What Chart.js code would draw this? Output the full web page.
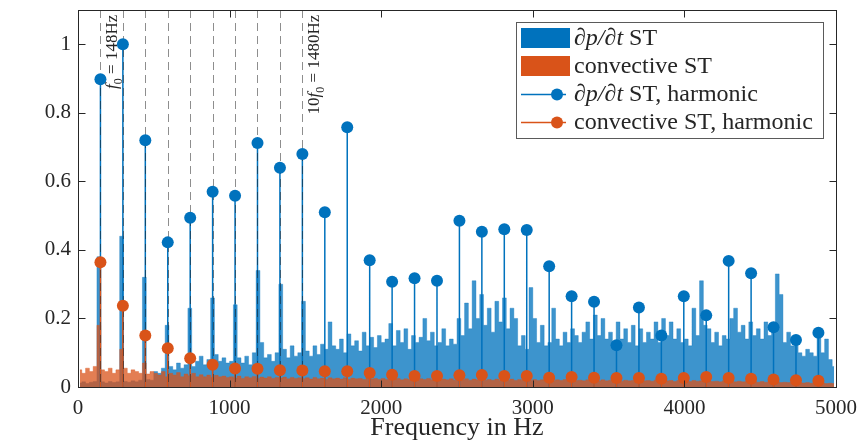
<!DOCTYPE html>
<html>
<head>
<meta charset="utf-8">
<script src="https://cdn.jsdelivr.net/npm/chart.js@4/dist/chart.umd.min.js"></script>
<style>
  html, body { margin: 0; padding: 0; background: #fff; }
  #wrap { width: 866px; height: 446px; position: relative; }
</style>
</head>
<body>
<div id="wrap"><canvas id="spectrum"></canvas></div>
<script>
// harmonics of f0 = 148 Hz
const harmonicFreqs = [148, 296, 444, 592, 740, 888, 1036, 1184, 1332, 1480, 1628, 1776, 1924, 2072, 2220, 2368,
  2516, 2664, 2812, 2960, 3108, 3256, 3404, 3552, 3700, 3848, 3996, 4144, 4292, 4440, 4588, 4736, 4884];
const dpdtHarmonic = [0.898, 1.0, 0.72, 0.422, 0.494, 0.57, 0.558, 0.712, 0.64, 0.68, 0.51, 0.758, 0.37, 0.307, 0.317, 0.31,
  0.485, 0.453, 0.46, 0.458, 0.352, 0.265, 0.249, 0.122, 0.232, 0.15, 0.265, 0.209, 0.368, 0.332, 0.174, 0.137, 0.158];
const convHarmonic = [0.364, 0.237, 0.150, 0.113, 0.084, 0.065, 0.054, 0.053, 0.049, 0.048, 0.046, 0.046, 0.041, 0.036, 0.032, 0.032,
  0.034, 0.035, 0.032, 0.032, 0.027, 0.029, 0.027, 0.026, 0.026, 0.024, 0.026, 0.029, 0.026, 0.024, 0.022, 0.020, 0.018];

// broadband spectra, one value per 25 Hz bin starting at 0 Hz
const noiseStep = 25;
const dpdtNoise = [
  0.012, 0.015, 0.010, 0.014, 0.016, 0.380, 0.015, 0.012, 0.016, 0.013, 0.015, 0.440, 0.016, 0.014, 0.018, 0.015, 0.020, 0.320, 0.022, 0.020,
  0.045, 0.040, 0.055, 0.180, 0.060, 0.050, 0.070, 0.055, 0.065, 0.230, 0.060, 0.075, 0.090, 0.065, 0.080, 0.260, 0.095, 0.075, 0.085, 0.070,
  0.075, 0.240, 0.085, 0.070, 0.090, 0.065, 0.100, 0.340, 0.130, 0.085, 0.095, 0.075, 0.100, 0.300, 0.110, 0.085, 0.120, 0.090, 0.100, 0.250,
  0.105, 0.090, 0.120, 0.095, 0.125, 0.110, 0.190, 0.120, 0.110, 0.140, 0.100, 0.155, 0.120, 0.135, 0.105, 0.160, 0.120, 0.145, 0.115, 0.150,
  0.130, 0.140, 0.185, 0.120, 0.165, 0.130, 0.170, 0.110, 0.150, 0.130, 0.145, 0.200, 0.135, 0.160, 0.120, 0.130, 0.170, 0.120, 0.140, 0.125,
  0.200, 0.150, 0.245, 0.170, 0.310, 0.200, 0.270, 0.180, 0.230, 0.160, 0.250, 0.190, 0.260, 0.170, 0.230, 0.200, 0.120, 0.150, 0.110, 0.290,
  0.200, 0.130, 0.180, 0.120, 0.130, 0.230, 0.140, 0.120, 0.160, 0.130, 0.170, 0.150, 0.130, 0.160, 0.190, 0.140, 0.210, 0.150, 0.200, 0.140,
  0.160, 0.120, 0.190, 0.140, 0.170, 0.130, 0.180, 0.120, 0.170, 0.130, 0.160, 0.140, 0.190, 0.130, 0.200, 0.150, 0.190, 0.140, 0.170, 0.130,
  0.140, 0.120, 0.230, 0.150, 0.310, 0.180, 0.170, 0.130, 0.160, 0.120, 0.150, 0.140, 0.200, 0.230, 0.160, 0.180, 0.140, 0.190, 0.150, 0.170,
  0.140, 0.190, 0.150, 0.170, 0.330, 0.270, 0.130, 0.160, 0.120, 0.130, 0.100, 0.090, 0.110, 0.100, 0.090, 0.160, 0.100, 0.140, 0.080, 0.060
];
const convNoise = [
  0.050, 0.040, 0.055, 0.045, 0.060, 0.180, 0.050, 0.045, 0.055, 0.040, 0.050, 0.110, 0.055, 0.040, 0.050, 0.045, 0.040, 0.070, 0.038, 0.045,
  0.040, 0.035, 0.045, 0.030, 0.040, 0.035, 0.042, 0.030, 0.038, 0.033, 0.040, 0.030, 0.036, 0.030, 0.035, 0.028, 0.034, 0.030, 0.032, 0.028,
  0.030, 0.026, 0.032, 0.025, 0.030, 0.027, 0.031, 0.025, 0.029, 0.026, 0.030, 0.025, 0.028, 0.026, 0.029, 0.024, 0.028, 0.025, 0.027, 0.024,
  0.027, 0.023, 0.028, 0.024, 0.026, 0.022, 0.027, 0.024, 0.026, 0.023, 0.027, 0.022, 0.026, 0.024, 0.025, 0.022, 0.026, 0.023, 0.025, 0.022,
  0.025, 0.022, 0.026, 0.023, 0.025, 0.021, 0.024, 0.022, 0.025, 0.021, 0.024, 0.022, 0.025, 0.021, 0.024, 0.022, 0.023, 0.021, 0.024, 0.020,
  0.023, 0.021, 0.024, 0.020, 0.023, 0.021, 0.024, 0.020, 0.022, 0.020, 0.023, 0.019, 0.022, 0.020, 0.023, 0.019, 0.022, 0.020, 0.022, 0.019,
  0.022, 0.019, 0.021, 0.020, 0.022, 0.018, 0.021, 0.019, 0.022, 0.018, 0.021, 0.019, 0.020, 0.018, 0.021, 0.019, 0.020, 0.018, 0.021, 0.018,
  0.020, 0.018, 0.021, 0.017, 0.020, 0.018, 0.019, 0.017, 0.020, 0.018, 0.019, 0.017, 0.020, 0.017, 0.019, 0.018, 0.019, 0.016, 0.019, 0.017,
  0.018, 0.016, 0.019, 0.017, 0.018, 0.016, 0.018, 0.016, 0.017, 0.015, 0.018, 0.016, 0.017, 0.015, 0.017, 0.015, 0.016, 0.015, 0.016, 0.014,
  0.016, 0.014, 0.015, 0.014, 0.015, 0.013, 0.014, 0.013, 0.014, 0.012, 0.013, 0.012, 0.013, 0.011, 0.012, 0.011, 0.012, 0.010, 0.011, 0.010
];

const xTicks = [0, 1000, 2000, 3000, 4000, 5000];
const yTicks = [0, 0.2, 0.4, 0.6, 0.8, 1];
const markedHarmonics = 10; // dashed guide lines for the first 10 harmonics

const legendLabels = [
  [['∂p/∂t', 'i'], [' ST', 'n']],
  [['convective ST', 'n']],
  [['∂p/∂t', 'i'], [' ST, harmonic', 'n']],
  [['convective ST, harmonic', 'n']]
];
const freqNotes = [
  { freq: 148, parts: [['f', 'i'], ['0', 's'], [' = 148Hz', 'n']] },
  { freq: 1480, parts: [['10', 'n'], ['f', 'i'], ['0', 's'], [' = 1480Hz', 'n']] }
];

const BLUE = '#0072BD';
const ORANGE = '#D95319';
const AXIS = '#262626';
const SERIF = "'Liberation Serif', 'DejaVu Serif', serif";

function noisePoints(values) {
  return values.map((v, i) => ({ x: i * noiseStep + noiseStep / 2, y: v }));
}

function stemPoints(freqs, values) {
  const pts = [];
  freqs.forEach((f, i) => {
    pts.push({ x: f, y: 0 }, { x: f, y: values[i] }, { x: f, y: null });
  });
  return pts;
}

function markerPoints(freqs, values) {
  return freqs.map((f, i) => ({ x: f, y: values[i] }));
}

function fontFor(kind, size) {
  if (kind === 'i') return 'italic ' + size + 'px ' + SERIF;
  if (kind === 's') return Math.round(size * 0.7) + 'px ' + SERIF;
  return size + 'px ' + SERIF;
}

function drawParts(ctx, parts, x, y, size) {
  let cx = x;
  parts.forEach(([t, kind]) => {
    ctx.font = fontFor(kind, size);
    ctx.fillText(t, cx, kind === 's' ? y + size * 0.25 : y);
    cx += ctx.measureText(t).width;
  });
}

function partsWidth(ctx, parts, size) {
  let w = 0;
  parts.forEach(([t, kind]) => {
    ctx.font = fontFor(kind, size);
    w += ctx.measureText(t).width;
  });
  return w;
}

// dashed guides at the first harmonics, drawn over the stems but under the markers
const guidePlugin = {
  id: 'guides',
  beforeDatasetDraw(chart, args) {
    if (args.meta.label !== 'dpdt-markers') return;
    const ctx = chart.ctx;
    const area = chart.chartArea;
    const xs = chart.scales.x;
    ctx.save();
    ctx.strokeStyle = 'rgba(30, 30, 30, 0.5)';
    ctx.lineWidth = 1;
    ctx.setLineDash([8, 5]);
    for (let i = 0; i < markedHarmonics; i++) {
      const px = Math.round(xs.getPixelForValue(harmonicFreqs[i])) + 0.5;
      ctx.beginPath();
      ctx.moveTo(px, area.top);
      ctx.lineTo(px, area.bottom);
      ctx.stroke();
    }
    ctx.restore();
  }
};

// box, inward ticks, rotated notes and legend
const framePlugin = {
  id: 'frame',
  afterDraw(chart) {
    const ctx = chart.ctx;
    const a = chart.chartArea;
    const xs = chart.scales.x;
    const ys = chart.scales.y;
    ctx.save();
    ctx.strokeStyle = AXIS;
    ctx.lineWidth = 1;
    const L = Math.round(a.left) + 0.5, R = Math.round(a.right) + 0.5;
    const T = Math.round(a.top) + 0.5, B = Math.round(a.bottom) + 0.5;
    ctx.strokeRect(L, T, R - L, B - T);
    const tl = 7;
    ctx.beginPath();
    xTicks.forEach(v => {
      const px = Math.round(xs.getPixelForValue(v)) + 0.5;
      ctx.moveTo(px, B); ctx.lineTo(px, B - tl);
      ctx.moveTo(px, T); ctx.lineTo(px, T + tl);
    });
    yTicks.forEach(v => {
      const py = Math.round(ys.getPixelForValue(v)) + 0.5;
      ctx.moveTo(L, py); ctx.lineTo(L + tl, py);
      ctx.moveTo(R, py); ctx.lineTo(R - tl, py);
    });
    ctx.stroke();

    // rotated frequency notes
    ctx.fillStyle = AXIS;
    ctx.textBaseline = 'alphabetic';
    ctx.textAlign = 'left';
    const noteSize = 17;
    freqNotes.forEach(n => {
      const px = xs.getPixelForValue(n.freq) + 17;
      const py = ys.getPixelForValue(1.086);
      ctx.save();
      ctx.translate(px, py);
      ctx.rotate(-Math.PI / 2);
      const w = partsWidth(ctx, n.parts, noteSize);
      drawParts(ctx, n.parts, -w, 0, noteSize);
      ctx.restore();
    });

    // legend
    const lx = a.right - 320, ly = a.top + 12, lw = 307, lh = 116;
    ctx.fillStyle = '#fff';
    ctx.fillRect(lx, ly, lw, lh);
    ctx.strokeStyle = '#5a5a5a';
    ctx.strokeRect(Math.round(lx) + 0.5, Math.round(ly) + 0.5, lw, lh);
    const rowH = 28;
    const colors = [BLUE, ORANGE, BLUE, ORANGE];
    legendLabels.forEach((parts, i) => {
      const cy = ly + 16 + i * rowH;
      if (i < 2) {
        ctx.fillStyle = colors[i];
        ctx.fillRect(lx + 5, cy - 10, 49, 20);
      } else {
        ctx.strokeStyle = colors[i];
        ctx.lineWidth = 1.5;
        ctx.beginPath();
        ctx.moveTo(lx + 5, cy + 0.5);
        ctx.lineTo(lx + 50, cy + 0.5);
        ctx.stroke();
        ctx.fillStyle = colors[i];
        ctx.beginPath();
        ctx.arc(lx + 41, cy + 0.5, 6, 0, Math.PI * 2);
        ctx.fill();
      }
      ctx.fillStyle = AXIS;
      drawParts(ctx, parts, lx + 58, cy + 7, 24);
    });
    ctx.restore();
  }
};

const ctx = document.getElementById('spectrum');

const config = {
  type: 'line',
  data: {
    datasets: [
      {
        label: 'dpdt-noise',
        data: noisePoints(dpdtNoise),
        stepped: 'middle',
        fill: 'origin',
        backgroundColor: 'rgba(0, 114, 189, 0.76)',
        borderColor: 'rgba(0, 114, 189, 0.35)',
        borderWidth: 1,
        pointRadius: 0,
        order: 6
      },
      {
        label: 'conv-noise',
        data: noisePoints(convNoise),
        stepped: 'middle',
        fill: 'origin',
        backgroundColor: 'rgba(217, 83, 25, 0.75)',
        borderColor: 'rgba(217, 83, 25, 0.35)',
        borderWidth: 1,
        pointRadius: 0,
        order: 5
      },
      {
        label: 'dpdt-stems',
        data: stemPoints(harmonicFreqs, dpdtHarmonic),
        borderColor: BLUE,
        borderWidth: 1.5,
        pointRadius: 0,
        spanGaps: false,
        order: 4
      },
      {
        label: 'conv-stems',
        data: stemPoints(harmonicFreqs, convHarmonic),
        borderColor: ORANGE,
        borderWidth: 1.5,
        pointRadius: 0,
        spanGaps: false,
        order: 3
      },
      {
        label: 'dpdt-markers',
        data: markerPoints(harmonicFreqs, dpdtHarmonic),
        showLine: false,
        pointRadius: 6,
        pointBackgroundColor: BLUE,
        pointBorderColor: BLUE,
        pointBorderWidth: 0,
        order: 2
      },
      {
        label: 'conv-markers',
        data: markerPoints(harmonicFreqs, convHarmonic),
        showLine: false,
        pointRadius: 6,
        pointBackgroundColor: ORANGE,
        pointBorderColor: ORANGE,
        pointBorderWidth: 0,
        order: 1
      }
    ]
  },
  options: {
    responsive: true,
    maintainAspectRatio: false,
    animation: false,
    layout: { padding: { top: 0, right: 30, left: 0, bottom: 0 } },
    plugins: {
      legend: { display: false },
      tooltip: { enabled: false }
    },
    scales: {
      x: {
        type: 'linear',
        min: 0,
        max: 5000,
        offset: false,
        grid: { display: false, drawTicks: false },
        border: { display: false },
        afterBuildTicks: s => { s.ticks = xTicks.map(v => ({ value: v })); },
        afterFit: s => { s.height = 59; },
        ticks: {
          padding: 9,
          maxRotation: 0,
          color: AXIS,
          font: { family: SERIF, size: 21 },
          callback: v => String(v)
        },
        title: {
          display: true,
          text: 'Frequency in Hz',
          color: AXIS,
          font: { family: SERIF, size: 26 },
          padding: { top: 0, bottom: 2 }
        }
      },
      y: {
        min: 0,
        max: 1.1,
        grid: { display: false, drawTicks: false },
        border: { display: false },
        afterBuildTicks: s => { s.ticks = yTicks.map(v => ({ value: v })); },
        afterFit: s => { s.width = 78; s.paddingTop = 10; s.paddingBottom = 0; },
        ticks: {
          padding: 7,
          color: AXIS,
          font: { family: SERIF, size: 21 },
          callback: v => String(Math.round(v * 10) / 10)
        }
      }
    }
  },
  plugins: [guidePlugin, framePlugin]
};

new Chart(ctx, config);
</script>
</body>
</html>
